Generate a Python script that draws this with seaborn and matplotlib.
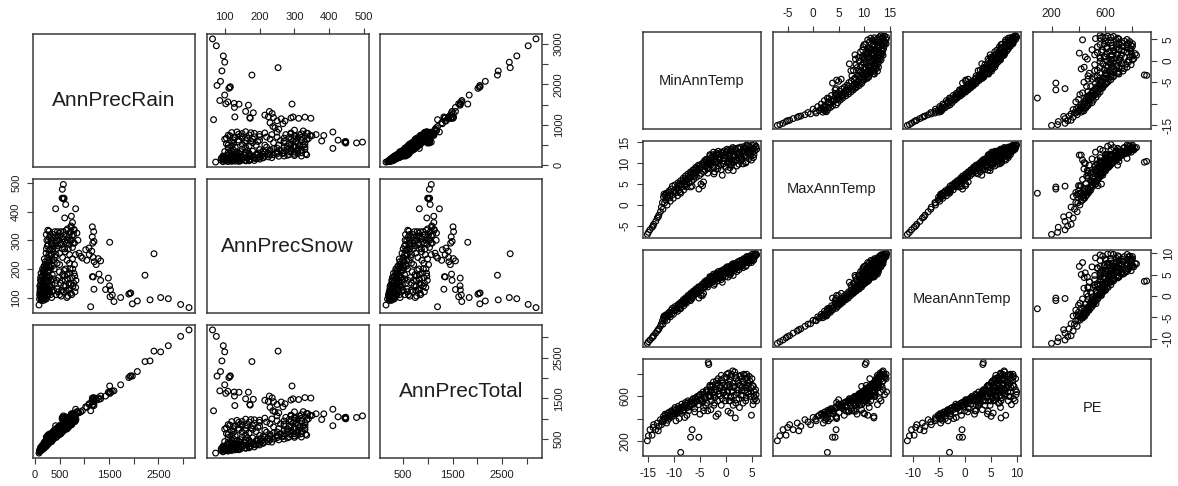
import matplotlib
matplotlib.use("Agg")
import matplotlib.pyplot as plt
import pandas as pd
import seaborn as sns

# ---- annual precipitation (mm) ----
rain = [
    575, 554, 550, 565, 580, 590, 622, 419, 824, 602, 737, 760, 730, 790,
    1162, 1190, 1160, 1195, 1170, 1513, 2410, 2228, 1162, 1180, 1297, 1330,
    1486, 1195, 1430, 1530, 1510, 1567, 1520, 1900, 1925, 1940, 1735, 1600,
    1128, 82, 2073, 1972, 2330, 2545, 2700, 2950, 3119, 892, 926, 960, 1027,
    1094, 1330, 1100, 1150, 1180, 1240, 1280, 1050, 1200,
    95, 105, 110, 120, 125, 130, 140, 145, 150, 160, 165, 170, 175, 180, 185,
    190, 195, 200, 205, 210, 100, 115, 135, 155, 190,
    215, 220, 225, 230, 235, 240, 245, 250, 255, 260, 265, 270, 275, 280, 285,
    290, 295, 300, 310, 315, 320, 330, 335, 340, 345, 350, 360, 370, 380, 390,
    400, 410, 420,
    440, 460, 480, 500, 520, 540, 560, 580, 600, 620, 640, 660, 680, 700, 720,
    740, 760, 780, 800, 820, 650, 700, 450, 500, 850, 870,
    590, 610, 630, 650, 670, 690, 710, 730, 750, 770, 790, 810, 830, 700, 620,
    560, 520, 480, 450, 430,
    230, 260, 285, 455, 505, 500, 540, 580, 760, 800, 700,
    92, 98, 108, 112, 118, 122, 128, 133, 138, 142, 148, 152, 158, 162, 168,
    172, 178, 182, 188, 192, 198, 202, 208, 212, 218,
    222, 228, 232, 238, 242, 248, 252, 258, 262, 268, 272, 278, 282, 288, 292,
    298, 302, 308, 312, 318, 322, 328, 332, 338, 342, 348, 352, 358, 362, 368,
    375, 385, 395, 405, 415, 425,
    445, 470, 490, 515, 535, 555, 575, 595, 615, 635, 655, 675, 695, 715, 735,
    755, 775, 795,
    440, 470, 495, 530, 550, 575, 600, 625, 645, 665, 685, 705, 725, 745, 765,
    785, 805, 825,
]
snow = [
    495, 478, 447, 446, 444, 447, 425, 410, 410, 378, 384, 362, 350, 338,
    347, 330, 312, 296, 290, 293, 253, 178, 173, 172, 182, 160,
    168, 129, 128, 127, 141, 109, 103, 112, 115, 116, 100, 86,
    68, 74, 88, 78, 92, 100, 96, 76, 65, 255, 244, 238, 267,
    273, 228, 250, 262, 240, 215, 236, 230, 225,
    110, 130, 145, 100, 120, 160, 95, 135, 175, 110, 150, 195, 90, 125, 210,
    140, 165, 100, 185, 225, 120, 170, 105, 200, 235,
    115, 150, 255, 95, 175, 205, 130, 280, 160, 240, 110, 190, 300, 145, 225,
    265, 120, 170, 320, 205, 250, 135, 285, 100, 230, 180, 310, 260, 125, 200,
    330, 240, 290,
    270, 315, 300, 255, 330, 285, 240, 305, 270, 320, 290, 340, 310, 285, 330,
    300, 275, 320, 290, 250, 230, 250, 220, 215, 325, 300,
    195, 160, 125, 180, 105, 150, 200, 115, 170, 140, 185, 120, 160, 130, 200,
    180, 150, 170, 130, 110,
    320, 335, 332, 330, 315, 110, 125, 140, 235, 215, 220,
    95, 140, 105, 160, 125, 185, 90, 140, 115, 170, 100, 150, 125, 190, 95,
    140, 165, 105, 185, 120, 210, 145, 95, 170, 200,
    120, 215, 270, 140, 300, 105, 190, 230, 155, 285, 125, 210, 250, 170, 310,
    140, 225, 195, 270, 110, 160, 300, 215, 250, 145, 290, 120, 210, 270, 165,
    320, 230, 280, 150, 310, 250,
    300, 280, 325, 290, 310, 270, 330, 295, 260, 335, 300, 270, 320, 300, 345,
    315, 290, 335,
    160, 120, 190, 105, 160, 120, 175, 140, 100, 165, 125, 185, 145, 110, 200,
    150, 175, 135,
]
total = [
    1070, 1032, 997, 1011, 1024, 1037, 1047, 829, 1234, 980, 1121, 1122, 1080, 1128,
    1509, 1520, 1472, 1491, 1460, 1806, 2663, 2406, 1335, 1352, 1479, 1490,
    1654, 1324, 1558, 1657, 1651, 1676, 1623, 2012, 2040, 2056, 1835, 1686,
    1196, 156, 2161, 2050, 2422, 2645, 2796, 3026, 3184, 1147, 1170, 1198, 1294,
    1367, 1558, 1350, 1412, 1420, 1455, 1516, 1280, 1425,
    205, 235, 255, 220, 245, 290, 235, 280, 325, 270, 315, 365, 265, 305, 395,
    330, 360, 300, 390, 435, 220, 285, 240, 355, 425,
    330, 370, 480, 325, 410, 445, 375, 530, 415, 500, 375, 460, 575, 425, 510,
    555, 415, 470, 630, 520, 570, 465, 620, 440, 575, 530, 670, 630, 505, 590,
    730, 650, 710,
    710, 775, 780, 755, 850, 825, 800, 885, 870, 940, 930, 1000, 990, 985, 1050,
    1040, 1035, 1100, 1090, 1070, 880, 950, 670, 715, 1175, 1170,
    785, 770, 755, 830, 775, 840, 910, 845, 920, 910, 975, 930, 990, 830, 820,
    740, 670, 650, 580, 540,
    550, 595, 617, 785, 820, 610, 665, 720, 995, 1015, 920,
    187, 238, 213, 272, 243, 307, 218, 273, 253, 312, 248, 302, 283, 352, 263,
    312, 343, 287, 373, 312, 408, 347, 303, 382, 418,
    342, 443, 502, 378, 542, 353, 442, 488, 417, 553, 397, 488, 532, 458, 602,
    438, 527, 503, 582, 428, 482, 628, 547, 588, 487, 638, 472, 568, 632, 533,
    695, 615, 675, 555, 725, 675,
    745, 750, 815, 805, 845, 825, 905, 890, 875, 970, 955, 945, 1015, 1015, 1080,
    1070, 1065, 1130,
    600, 590, 685, 635, 710, 695, 775, 765, 745, 830, 810, 890, 870, 855, 965,
    935, 980, 960,
]

# ---- annual temperature (deg C) and potential evaporation ----
min_temp = [
    -15.1, -14.9, -14.6, -14.2, -13.9, -13.5, -13.2, -12.9, -12.6, -12.4,
    -12.2, -12.0, -11.9, -11.7, -11.5, -11.2, -11.0, -10.8,
    -10.5, -10.3, -10.0, -9.8, -9.5, -9.2, -9.0, -8.7, -8.5, -8.7,
    -8.2, -8.0, -7.8, -7.5, -7.3, -7.0, -6.8, -6.5, -6.8, -6.3,
    -6.0, -5.8, -5.5, -5.2, -5.3, -5.0, -4.8, -4.5, -4.3,
    -4.2, -4.0, -3.8, -3.6, -3.5, -3.4, -3.3, -3.2, -3.0, -2.8,
    -2.6, -2.5, -2.3, -2.1, -1.9, -1.8, -1.6, -1.5, -1.3, -1.1,
    -1.0, -0.9, -0.7, -0.6, -0.4, -0.3, -0.1, 0.0, 0.2, 0.4,
    0.5, 0.7, 0.8, 1.0, 1.1, 1.3, 1.4, 1.4, 1.6, 1.7,
    1.8, 2.0, 2.1, 2.3, 2.4, 2.6, 2.8, 2.9, 3.1, 3.3,
    3.4, 3.6, 3.8, 3.9, 4.1, 4.3, 4.4, 4.6, 4.8, 4.9,
    5.0, 5.2, 5.3, 5.5, 5.6, 5.8, 5.9,
    -9.9, -9.4, -8.9, -8.3, -7.7, -7.2, -6.6, -6.1, -5.6, -5.1,
    -4.6, -4.1, -3.7, -2.9, -2.2, -1.4, -0.5, 0.3, 0.9, 1.5,
    2.2, 2.7, 3.2, 3.7, 4.2, 4.7, -1.7, 0.6, 1.9, 3.0,
    -2.7, -3.9, -10.9, -11.4, -13.0, -14.0,
    -12.1, -11.8, -11.6, -11.3, -11.1, -10.7, -10.4, -10.1, -9.7, -9.3,
    -9.1, -8.8, -8.4, -8.1, -7.9, -7.6, -7.4, -7.1, -6.9, -6.6,
    -6.4, -6.2, -5.9, -5.7, -5.4, -5.1, -4.9, -4.7,
    -4.4, -4.0, -3.7, -3.3, -3.0, -2.7, -2.4, -2.0, -1.7, -1.4,
    -1.2, -0.8, -0.5, -0.2, 0.1, 0.3, 0.6, 0.9, 1.2, 1.5,
    1.8, 2.1, 2.4, 2.7, 3.0, 3.3, 3.6, 3.9, 4.2, 4.5,
    4.8, 5.1, 5.4, 5.7, -2.2, -0.9, 0.8, 2.5, 3.8, 5.3,
    -1.5, 0.2, 1.3, 4.0, -3.1, -2.4,
    -9.6, -7.9, -6.0, -4.3, -2.9, 0.9, 2.6,
]
max_temp = [
    -7.0, -6.5, -5.9, -5.3, -4.6, -3.9, -3.1, -2.4, -1.6, -0.5,
    0.6, 1.9, 2.6, 2.3, 2.8, 2.4, 3.0, 2.1,
    3.8, 4.5, 3.5, 4.8, 3.9, 5.3, 4.6, 5.8, 5.0, 2.8,
    6.4, 5.5, 6.9, 6.1, 7.4, 6.6, 7.9, 4.5, 4.3, 8.4,
    7.6, 9.0, 8.1, 3.8, 9.5, 8.6, 5.0, 4.6, 5.5,
    10.2, 9.4, 10.9, 8.8, 7.6, 10.4, 10.2, 9.9, 11.8, 10.5,
    9.2, 12.0, 7.4, 10.8, 11.9, 12.4, 8.6, 10.1, 12.1, 11.3,
    9.5, 12.6, 7.1, 11.8, 10.4, 12.9, 9.0, 11.6, 12.7, 8.3,
    13.1, 10.9, 12.2, 9.6, 13.3, 11.5, 8.2, 12.8, 10.2, 13.5,
    11.9, 12.9, 9.3, 13.6, 11.2, 12.4, 13.8, 10.6, 12.9, 9.8,
    13.9, 11.7, 13.4, 10.3, 14.1, 12.3, 11.0, 13.7, 12.8, 10.7,
    14.3, 12.6, 13.5, 14.4, 13.0, 14.0, 13.3,
    3.2, 4.1, 5.1, 5.7, 6.3, 7.0, 7.7, 8.3, 8.8, 9.3,
    9.9, 10.6, 10.0, 11.2, 11.6, 11.0, 11.1, 11.9, 11.0, 12.0,
    12.1, 11.5, 12.0, 12.6, 13.2, 12.1, 10.4, 10.2, 10.8, 11.1,
    10.2, 9.1, 3.4, 2.0, -2.8, -5.0,
    -1.0, 0.5, 1.2, 0.0, 1.6, 0.9, 2.3, 1.6, 2.9, 2.2,
    3.5, 3.1, 4.4, 3.6, 5.0, 4.3, 5.9, 5.2, 6.4, 5.6,
    7.2, 6.1, 7.8, 6.6, 8.4, 7.0, 8.9, 7.5,
    9.6, 8.2, 10.6, 8.7, 9.8, 11.4, 8.9, 10.2, 11.9, 9.3,
    10.7, 12.3, 9.8, 11.2, 12.5, 10.0, 11.7, 12.9, 10.4, 11.4,
    13.2, 10.8, 12.3, 13.4, 10.9, 12.7, 13.6, 11.8, 12.9, 14.0,
    11.6, 13.2, 12.0, 13.7, 7.9, 8.4, 8.9, 9.7, 10.0, 11.3,
    12.8, 13.3, 13.7, 14.3, 12.0, 12.6,
    3.0, 4.6, 6.9, 8.0, 9.5, 9.9, 11.0,
]
mean_temp = [
    -11.1, -10.7, -10.3, -9.8, -9.3, -8.7, -8.2, -7.7, -7.1, -6.5,
    -5.8, -5.1, -4.7, -4.7, -4.4, -4.4, -4.0, -4.4,
    -3.3, -2.9, -3.3, -2.5, -2.8, -2.0, -2.2, -1.5, -1.8, -3.0,
    -0.9, -1.3, -0.5, -0.7, 0.1, -0.2, 0.6, -0.6, -1.1, 1.1,
    0.8, 1.6, 1.3, -0.5, 2.1, 1.8, 0.1, 0.1, 0.6,
    3.0, 2.7, 3.6, 2.6, 2.1, 3.5, 3.4, 3.4, 4.4, 3.9,
    3.3, 4.7, 2.5, 4.3, 5.0, 5.3, 3.5, 4.3, 5.4, 5.1,
    4.2, 5.9, 3.2, 5.6, 5.0, 6.3, 4.5, 5.8, 6.5, 4.4,
    6.8, 5.8, 6.5, 5.3, 7.2, 6.4, 4.8, 7.1, 5.9, 7.6,
    6.9, 7.5, 5.7, 8.0, 6.8, 7.5, 8.3, 6.8, 8.0, 6.6,
    8.7, 7.7, 8.6, 7.1, 9.1, 8.3, 7.7, 9.2, 8.8, 7.8,
    9.7, 8.9, 9.4, 9.9, 9.3, 9.8, 9.6,
    -3.4, -2.7, -1.9, -1.3, -0.7, -0.1, 0.6, 1.1, 1.6, 2.1,
    2.7, 3.3, 3.2, 4.2, 4.7, 4.8, 5.3, 6.1, 6.0, 6.8,
    7.2, 7.1, 7.6, 8.2, 8.7, 8.4, 4.4, 5.4, 6.4, 7.1,
    3.8, 2.6, -3.8, -4.7, -7.9, -9.5,
    -6.6, -5.7, -5.2, -5.7, -4.8, -4.9, -4.1, -4.3, -3.4, -3.6,
    -2.8, -2.9, -2.0, -2.3, -1.5, -1.7, -0.8, -1.0, -0.3, -0.5,
    0.4, 0.0, 1.0, 0.5, 1.5, 1.0, 2.0, 1.4,
    2.6, 2.1, 3.5, 2.7, 3.4, 4.4, 3.3, 4.1, 5.1, 4.0,
    4.8, 5.8, 4.7, 5.5, 6.3, 5.2, 6.2, 6.9, 5.8, 6.5,
    7.5, 6.5, 7.4, 8.1, 7.0, 8.0, 8.6, 7.9, 8.6, 9.3,
    8.2, 9.2, 8.7, 9.7, 2.9, 3.8, 4.9, 6.1, 6.9, 8.3,
    5.7, 6.8, 7.5, 9.2, 4.5, 5.1,
    -3.3, -1.7, 0.5, 1.9, 3.3, 5.4, 6.8,
]
pe = [
    200, 245, 300, 250, 345, 300, 360, 330, 390, 345,
    380, 420, 400, 440, 410, 385, 455, 430,
    470, 420, 480, 500, 445, 510, 400, 490, 530, 95,
    470, 515, 545, 430, 560, 505, 535, 300, 232, 580,
    490, 560, 600, 232, 525, 440, 570, 545, 500,
    620, 580, 650, 540, 470, 905, 888, 610, 690, 560,
    630, 700, 520, 590, 420, 740, 560, 442, 650, 605,
    690, 790, 580, 720, 640, 770, 560, 610, 700, 466,
    810, 680, 745, 590, 800, 650, 520, 720, 610, 820,
    406, 760, 570, 735, 660, 700, 790, 610, 680, 540,
    800, 650, 760, 590, 770, 700, 620, 740, 680, 430,
    760, 526, 690, 640, 580, 616, 560,
    445, 470, 455, 500, 520, 470, 560, 530, 575, 610,
    560, 600, 640, 600, 640, 620, 660, 640, 600, 680,
    630, 700, 610, 700, 640, 600, 700, 560, 540, 760,
    660, 520, 400, 360, 290, 320,
    370, 395, 430, 410, 445, 420, 460, 440, 475, 455,
    490, 470, 505, 480, 520, 495, 540, 510, 550, 525,
    570, 540, 585, 555, 600, 565, 620, 575,
    640, 590, 660, 600, 640, 690, 610, 660, 720, 620,
    680, 750, 630, 700, 770, 650, 710, 780, 640, 690,
    790, 660, 720, 780, 650, 730, 790, 680, 720, 780,
    640, 700, 600, 660, 540, 520, 560, 580, 560, 560,
    760, 800, 830, 800, 700, 730,
    380, 410, 460, 470, 480, 450, 500,
]

precip = pd.DataFrame({"AnnPrecRain": rain, "AnnPrecSnow": snow,
                       "AnnPrecTotal": total})
temps = pd.DataFrame({"MinAnnTemp": min_temp, "MaxAnnTemp": max_temp,
                      "MeanAnnTemp": mean_temp, "PE": pe})

# tick positions and which of them carry a label (x side / y side)
tick_spec = {
    "AnnPrecRain": ([0, 500, 1000, 1500, 2000, 2500, 3000],
                    ["0", "500", "", "1500", "", "2500", ""],
                    ["0", "", "1000", "", "2000", "", "3000"]),
    "AnnPrecSnow": ([100, 200, 300, 400, 500],
                    ["100", "200", "300", "400", "500"],
                    ["100", "200", "300", "400", "500"]),
    "AnnPrecTotal": ([500, 1000, 1500, 2000, 2500, 3000],
                     ["500", "", "1500", "", "2500", ""],
                     ["500", "", "1500", "", "2500", ""]),
    "MinAnnTemp": ([-15, -10, -5, 0, 5],
                   ["-15", "-10", "-5", "0", "5"],
                   ["-15", "", "-5", "0", "5"]),
    "MaxAnnTemp": ([-5, 0, 5, 10, 15],
                   ["-5", "0", "5", "10", "15"],
                   ["-5", "0", "5", "10", "15"]),
    "MeanAnnTemp": ([-10, -5, 0, 5, 10],
                    ["-10", "-5", "0", "5", "10"],
                    ["-10", "-5", "0", "5", "10"]),
    "PE": ([200, 400, 600, 800],
           ["200", "", "600", ""],
           ["200", "", "600", ""]),
}

sns.set_theme(style="white")
plt.rcParams["font.family"] = ["Liberation Sans", "DejaVu Sans"]

W, H = 1178, 486
fig = plt.figure(figsize=(W / 100, H / 100), dpi=100)
fig.patch.set_facecolor("white")

TEXT = "#1e1e1e"
FRAME = "#3a3a3a"


def padded(values):
    lo, hi = min(values), max(values)
    pad = 0.04 * (hi - lo)
    return lo - pad, hi + pad


def pairs(df, x0, y0, w, h, step_x, step_y, diag_size, tick_size):
    names = list(df.columns)
    n = len(names)
    for i in range(n):
        for j in range(n):
            rect = [(x0 + j * step_x) / W, 1 - (y0 + i * step_y + h) / H,
                    w / W, h / H]
            ax = fig.add_axes(rect)
            ax.set_facecolor("white")
            if i == j:
                ax.text(0.5, 0.5, names[i], ha="center", va="center",
                        transform=ax.transAxes, fontsize=diag_size, color=TEXT)
            else:
                sns.scatterplot(data=df, x=names[j], y=names[i], ax=ax,
                                marker="o", s=17, facecolor="none",
                                edgecolor="black", linewidth=0.85)
            ax.set_xlim(padded(df[names[j]]))
            ax.set_ylim(padded(df[names[i]]))
            ax.set_xlabel("")
            ax.set_ylabel("")
            for sp in ax.spines.values():
                sp.set_visible(True)
                sp.set_color(FRAME)
                sp.set_linewidth(1.1)

            xt, xlab, _ = tick_spec[names[j]]
            yt, _, ylab = tick_spec[names[i]]
            show_top = i == 0 and j % 2 == 1
            show_bottom = i == n - 1 and j % 2 == 0
            show_left = j == 0 and i % 2 == 1
            show_right = j == n - 1 and i % 2 == 0
            if show_top or show_bottom:
                ax.set_xticks(xt)
                ax.set_xticklabels(xlab)
            else:
                ax.set_xticks([])
            if show_left or show_right:
                ax.set_yticks(yt)
                ax.set_yticklabels(ylab)
            else:
                ax.set_yticks([])
            ax.tick_params(axis="x", bottom=show_bottom, top=show_top,
                           labelbottom=show_bottom, labeltop=show_top,
                           direction="out", length=4.5, width=0.8,
                           color=FRAME, pad=4, labelsize=tick_size,
                           labelcolor=TEXT)
            ax.tick_params(axis="y", left=show_left, right=show_right,
                           labelleft=show_left, labelright=show_right,
                           direction="out", length=4.5, width=0.8,
                           color=FRAME, pad=4, labelsize=tick_size,
                           labelcolor=TEXT)
            for lab in ax.get_yticklabels():
                lab.set_rotation(90)
                lab.set_verticalalignment("center")


pairs(precip, x0=33, y0=34, w=162, h=133, step_x=173.5, step_y=145.5,
      diag_size=15, tick_size=8)
pairs(temps, x0=643, y0=32, w=118, h=97, step_x=130, step_y=109,
      diag_size=10.5, tick_size=8.5)

fig.savefig("out.png", dpi=100, facecolor="white")
